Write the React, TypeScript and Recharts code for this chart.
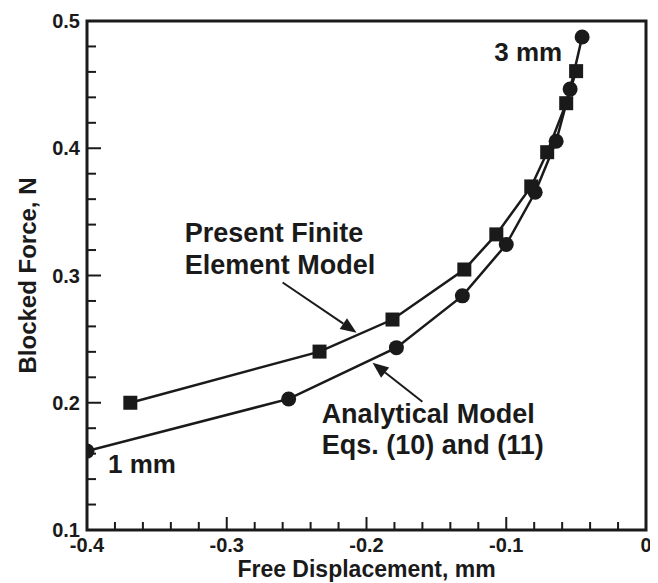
import React from 'react';
import {
  ComposedChart,
  Scatter,
  XAxis,
  YAxis,
  ReferenceArea,
  ReferenceDot,
  ReferenceLine,
} from 'recharts';

// Present Finite Element Model (squares)
const feX = [-0.369, -0.2336, -0.1814, -0.130, -0.1071, -0.0821, -0.0707, -0.0571, -0.050];
const feY = [0.200, 0.2402, 0.2654, 0.3047, 0.3323, 0.370, 0.3969, 0.4354, 0.4606];
// Analytical Model Eqs. (10) and (11) (circles)
const anX = [-0.400, -0.2557, -0.1786, -0.1314, -0.100, -0.0793, -0.0643, -0.0543, -0.0457];
const anY = [0.162, 0.203, 0.2433, 0.284, 0.3244, 0.3654, 0.4055, 0.4465, 0.4874];

const xTicks = [-0.4, -0.38, -0.36, -0.34, -0.32, -0.3, -0.28, -0.26, -0.24, -0.22, -0.2, -0.18, -0.16, -0.14, -0.12, -0.1, -0.08, -0.06, -0.04, -0.02, 0];
const yTicks = [0.1, 0.12, 0.14, 0.16, 0.18, 0.2, 0.22, 0.24, 0.26, 0.28, 0.3, 0.32, 0.34, 0.36, 0.38, 0.4, 0.42, 0.44, 0.46, 0.48, 0.5];

const feData = feX.map((x, i) => ({ x, y: feY[i] }));
const anData = anX.map((x, i) => ({ x, y: anY[i] }));

const INK = '#1a1a1a';
const FONT = '"Liberation Sans", Arial, Helvetica, sans-serif';

const isMajor = (v: number) => Math.abs(v * 10 - Math.round(v * 10)) < 1e-6;
const fmt = (v: number) => (Math.abs(v) < 1e-9 ? '0' : v.toFixed(1));

const XTick = (props: any) => {
  const { x, y, payload } = props;
  const v = payload.value as number;
  const major = isMajor(v);
  return (
    <g>
      <line x1={x} y1={y} x2={x} y2={y - (major ? 13 : 8)} stroke={INK} strokeWidth={2} />
      {major && (
        <text x={x} y={y + 15} dy="0.36em" textAnchor="middle" fontFamily={FONT} fontWeight="bold" fontSize={20} fill={INK}>
          {fmt(v)}
        </text>
      )}
    </g>
  );
};

const YTick = (props: any) => {
  const { x, y, payload } = props;
  const v = payload.value as number;
  const major = isMajor(v);
  return (
    <g>
      <line x1={x} y1={y} x2={x + (major ? 14 : 9)} y2={y} stroke={INK} strokeWidth={2} />
      {major && (
        <text x={x - 7} y={y} dy="0.36em" textAnchor="end" fontFamily={FONT} fontWeight="bold" fontSize={20} fill={INK}>
          {fmt(v)}
        </text>
      )}
    </g>
  );
};

const SquareShape = (props: any) => {
  const { cx, cy } = props;
  return <rect x={cx - 7} y={cy - 7} width={14} height={14} fill={INK} />;
};
const CircleShape = (props: any) => {
  const { cx, cy } = props;
  return <circle cx={cx} cy={cy} r={7.5} fill={INK} />;
};

const makeText = (lines: string[], anchor: 'start' | 'end' | 'middle', lineGap: number, size: number) => (props: any) => {
  const { cx, cy } = props;
  return (
    <text x={cx} y={cy} textAnchor={anchor} fontFamily={FONT} fontWeight="bold" fontSize={size} fill={INK}>
      {lines.map((l, i) => (
        <tspan key={i} x={cx} y={cy + i * lineGap} dy="0.36em">
          {l}
        </tspan>
      ))}
    </text>
  );
};

const Arrow = (props: any) => {
  const { x1, y1, x2, y2 } = props;
  const ang = Math.atan2(y2 - y1, x2 - x1);
  const L = 16;
  const W = 6.5;
  const bx = x2 - L * Math.cos(ang);
  const by = y2 - L * Math.sin(ang);
  const px = -Math.sin(ang) * W;
  const py = Math.cos(ang) * W;
  return (
    <g>
      <line x1={x1} y1={y1} x2={bx} y2={by} stroke={INK} strokeWidth={2} />
      <polygon points={`${x2},${y2} ${bx + px},${by + py} ${bx - px},${by - py}`} fill={INK} />
    </g>
  );
};

const labels3 = ['3 mm'];
const labels1 = ['1 mm'];
const labelsFE = ['Present Finite', 'Element Model'];
const labelsAN = ['Analytical Model', 'Eqs. (10) and (11)'];

export default function App() {
  return (
    <ComposedChart width={650} height={575} margin={{ top: 13, right: 12, left: 0, bottom: 0 }}>
      <XAxis
        dataKey="x"
        type="number"
        domain={[-0.4, 0]}
        ticks={xTicks}
        interval={0}
        allowDataOverflow
        axisLine={false}
        tickLine={false}
        tickSize={0}
        tickMargin={0}
        tick={<XTick />}
        height={53}
        label={{
          value: 'Free Displacement, mm',
          position: 'insideBottom',
          offset: 6,
          style: { fontFamily: FONT, fontWeight: 'bold', fontSize: 23, fill: INK },
        }}
      />
      <YAxis
        dataKey="y"
        type="number"
        domain={[0.1, 0.5]}
        ticks={yTicks}
        interval={0}
        allowDataOverflow
        axisLine={false}
        tickLine={false}
        tickSize={0}
        tickMargin={0}
        tick={<YTick />}
        width={79}
        label={{
          value: 'Blocked Force, N',
          angle: -90,
          position: 'insideLeft',
          offset: 19,
          style: { fontFamily: FONT, fontWeight: 'bold', fontSize: 24, fill: INK, textAnchor: 'middle' },
        }}
      />
      <ReferenceArea x1={-0.4} x2={0} y1={0.1} y2={0.5} fill="none" fillOpacity={0} stroke={INK} strokeWidth={3} ifOverflow="visible" />
      <ReferenceLine segment={[{ x: -0.26, y: 0.2945 }, { x: -0.2071, y: 0.2551 }]} shape={<Arrow />} ifOverflow="visible" />
      <ReferenceLine segment={[{ x: -0.16, y: 0.2008 }, { x: -0.1957, y: 0.2315 }]} shape={<Arrow />} ifOverflow="visible" />
      <Scatter data={feData} dataKey="y" shape={<SquareShape />} line={{ stroke: INK, strokeWidth: 2.5 }} lineType="joint" isAnimationActive={false} />
      <Scatter data={anData} dataKey="y" shape={<CircleShape />} line={{ stroke: INK, strokeWidth: 2.5 }} lineType="joint" isAnimationActive={false} />
      <ReferenceDot x={-0.06} y={0.4756} r={0} shape={makeText(labels3, 'end', 0, 26)} ifOverflow="visible" />
      <ReferenceDot x={-0.385} y={0.152} r={0} shape={makeText(labels1, 'start', 0, 26)} ifOverflow="visible" />
      <ReferenceDot x={-0.33} y={0.3339} r={0} shape={makeText(labelsFE, 'start', 32, 27)} ifOverflow="visible" />
      <ReferenceDot x={-0.2321} y={0.1921} r={0} shape={makeText(labelsAN, 'start', 31, 27)} ifOverflow="visible" />
    </ComposedChart>
  );
}
